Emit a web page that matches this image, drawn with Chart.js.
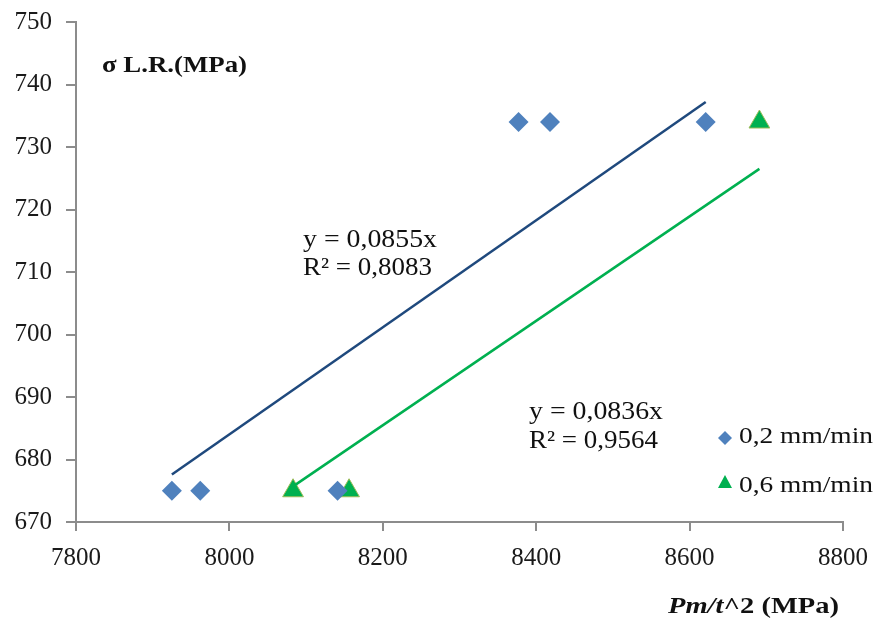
<!DOCTYPE html>
<html>
<head>
    <title>σ L.R. vs Pm/t^2</title>
    <script src="https://cdn.jsdelivr.net/npm/chart.js"></script>
    <style>
        body { margin: 0; background: #fff; }
        #wrap { width: 878px; height: 619px; position: relative; }
    </style>
</head>
<body>
    <div id="wrap"><canvas id="chart"></canvas></div>
    <script>
        // data
        const xSlow = [7925, 7962, 8141, 8377, 8418, 8621];
        const ySlow = [675, 675, 675, 734, 734, 734];
        const xFast = [8083, 8156, 8691];
        const yFast = [675, 675, 734];

        // trend lines (y = 0,0855x and y = 0,0836x), endpoints as drawn
        const trendSlowX = [7925, 8621];
        const trendSlowY = [677.6, 737.2];
        const trendFastX = [8083, 8691];
        const trendFastY = [675.7, 726.5];

        const xTicks = [7800, 8000, 8200, 8400, 8600, 8800];
        const yTicks = [670, 680, 690, 700, 710, 720, 730, 740, 750];

        const legendLabels = ['0,2 mm/min', '0,6 mm/min'];
        const eqSlow = ['y = 0,0855x', 'R² = 0,8083'];
        const eqFast = ['y = 0,0836x', 'R² = 0,9564'];

        const pts = (xs, ys) => xs.map((x, i) => ({ x: x, y: ys[i] }));

        // draws text squeezed/stretched to a given width
        function stretchText(ctx, text, x, y, font, width) {
            ctx.save();
            ctx.font = font;
            const w = ctx.measureText(text).width;
            const k = width ? width / w : 1;
            ctx.translate(x, y);
            ctx.scale(k, 1);
            ctx.fillText(text, 0, 0);
            ctx.restore();
            return w * k;
        }

        const extras = {
            id: 'extras',
            afterDraw(chart) {
                const ctx = chart.ctx;
                ctx.save();
                ctx.fillStyle = '#111';
                ctx.textBaseline = 'alphabetic';
                ctx.textAlign = 'left';

                // y title
                stretchText(ctx, 'σ L.R.(MPa)', 102, 72, 'bold 23px "Liberation Serif"', 145);

                // equations
                const ef = '25px "Liberation Serif"';
                stretchText(ctx, eqSlow[0], 303, 247, ef, 134);
                stretchText(ctx, eqSlow[1], 303, 275, ef, 129);
                stretchText(ctx, eqFast[0], 529, 419, ef, 134);
                stretchText(ctx, eqFast[1], 529, 448, ef, 129);

                // x title, mixed italic/bold
                ctx.save();
                ctx.font = 'italic bold 23px "Liberation Serif"';
                const w1 = ctx.measureText('Pm/t').width;
                ctx.font = 'bold 23px "Liberation Serif"';
                const w2 = ctx.measureText('^2 (MPa)').width;
                const k = 171 / (w1 + w2);
                ctx.translate(668, 613);
                ctx.scale(k, 1);
                ctx.font = 'italic bold 23px "Liberation Serif"';
                ctx.fillText('Pm/t', 0, 0);
                ctx.font = 'bold 23px "Liberation Serif"';
                ctx.fillText('^2 (MPa)', w1, 0);
                ctx.restore();

                // legend
                const lf = '24px "Liberation Serif"';
                ctx.fillStyle = '#4F81BD';
                ctx.beginPath();
                ctx.moveTo(725, 431); ctx.lineTo(732, 438); ctx.lineTo(725, 445); ctx.lineTo(718, 438);
                ctx.closePath();
                ctx.fill();
                ctx.fillStyle = '#00B050';
                ctx.beginPath();
                ctx.moveTo(725, 475); ctx.lineTo(732, 488); ctx.lineTo(718, 488);
                ctx.closePath();
                ctx.fill();
                ctx.fillStyle = '#111';
                stretchText(ctx, legendLabels[0], 739, 443, lf, 134);
                stretchText(ctx, legendLabels[1], 739, 492, lf, 134);
                ctx.restore();
            }
        };

        const tickFont = { family: '"Liberation Serif"', size: 25 };

        new Chart(document.getElementById('chart'), {
            type: 'scatter',
            data: {
                datasets: [
                    {
                        label: 'trend 0,2',
                        data: pts(trendSlowX, trendSlowY),
                        showLine: true,
                        borderColor: '#1F497D',
                        borderWidth: 2.5,
                        pointRadius: 0
                    },
                    {
                        label: 'trend 0,6',
                        data: pts(trendFastX, trendFastY),
                        showLine: true,
                        borderColor: '#00B050',
                        borderWidth: 2.5,
                        pointRadius: 0
                    },
                    {
                        label: legendLabels[0],
                        data: pts(xSlow, ySlow),
                        pointStyle: 'rectRot',
                        pointRadius: 10,
                        backgroundColor: '#4F81BD',
                        borderColor: '#4F81BD',
                        borderWidth: 0
                    },
                    {
                        label: legendLabels[1],
                        data: pts(xFast, yFast),
                        pointStyle: 'triangle',
                        pointRadius: 12,
                        backgroundColor: '#00B050',
                        borderColor: '#9BBB59',
                        borderWidth: 1
                    }
                ]
            },
            options: {
                responsive: true,
                maintainAspectRatio: false,
                animation: false,
                layout: { padding: { top: 22, right: 35, left: 0, bottom: 0 } },
                plugins: {
                    legend: { display: false },
                    tooltip: { enabled: false }
                },
                scales: {
                    x: {
                        type: 'linear',
                        min: 7800,
                        max: 8800,
                        afterBuildTicks: s => { s.ticks = xTicks.map(v => ({ value: v })); },
                        afterFit: s => { s.height = 97; s.paddingLeft = 0; s.paddingRight = 0; },
                        grid: { drawOnChartArea: false, drawTicks: true, tickLength: 9, color: '#8c8c8c', lineWidth: 2 },
                        border: { color: '#8c8c8c', width: 2 },
                        ticks: { font: tickFont, color: '#1a1a1a', padding: 12, maxRotation: 0, callback: v => String(v) }
                    },
                    y: {
                        type: 'linear',
                        min: 670,
                        max: 750,
                        afterBuildTicks: s => { s.ticks = yTicks.map(v => ({ value: v })); },
                        afterFit: s => { s.width = 76; s.paddingTop = 0; s.paddingBottom = 0; },
                        grid: { drawOnChartArea: false, drawTicks: true, tickLength: 10, color: '#8c8c8c', lineWidth: 2 },
                        border: { color: '#8c8c8c', width: 2 },
                        ticks: { font: tickFont, color: '#1a1a1a', padding: 14, callback: v => String(v) }
                    }
                }
            },
            plugins: [extras]
        });
    </script>
</body>
</html>
